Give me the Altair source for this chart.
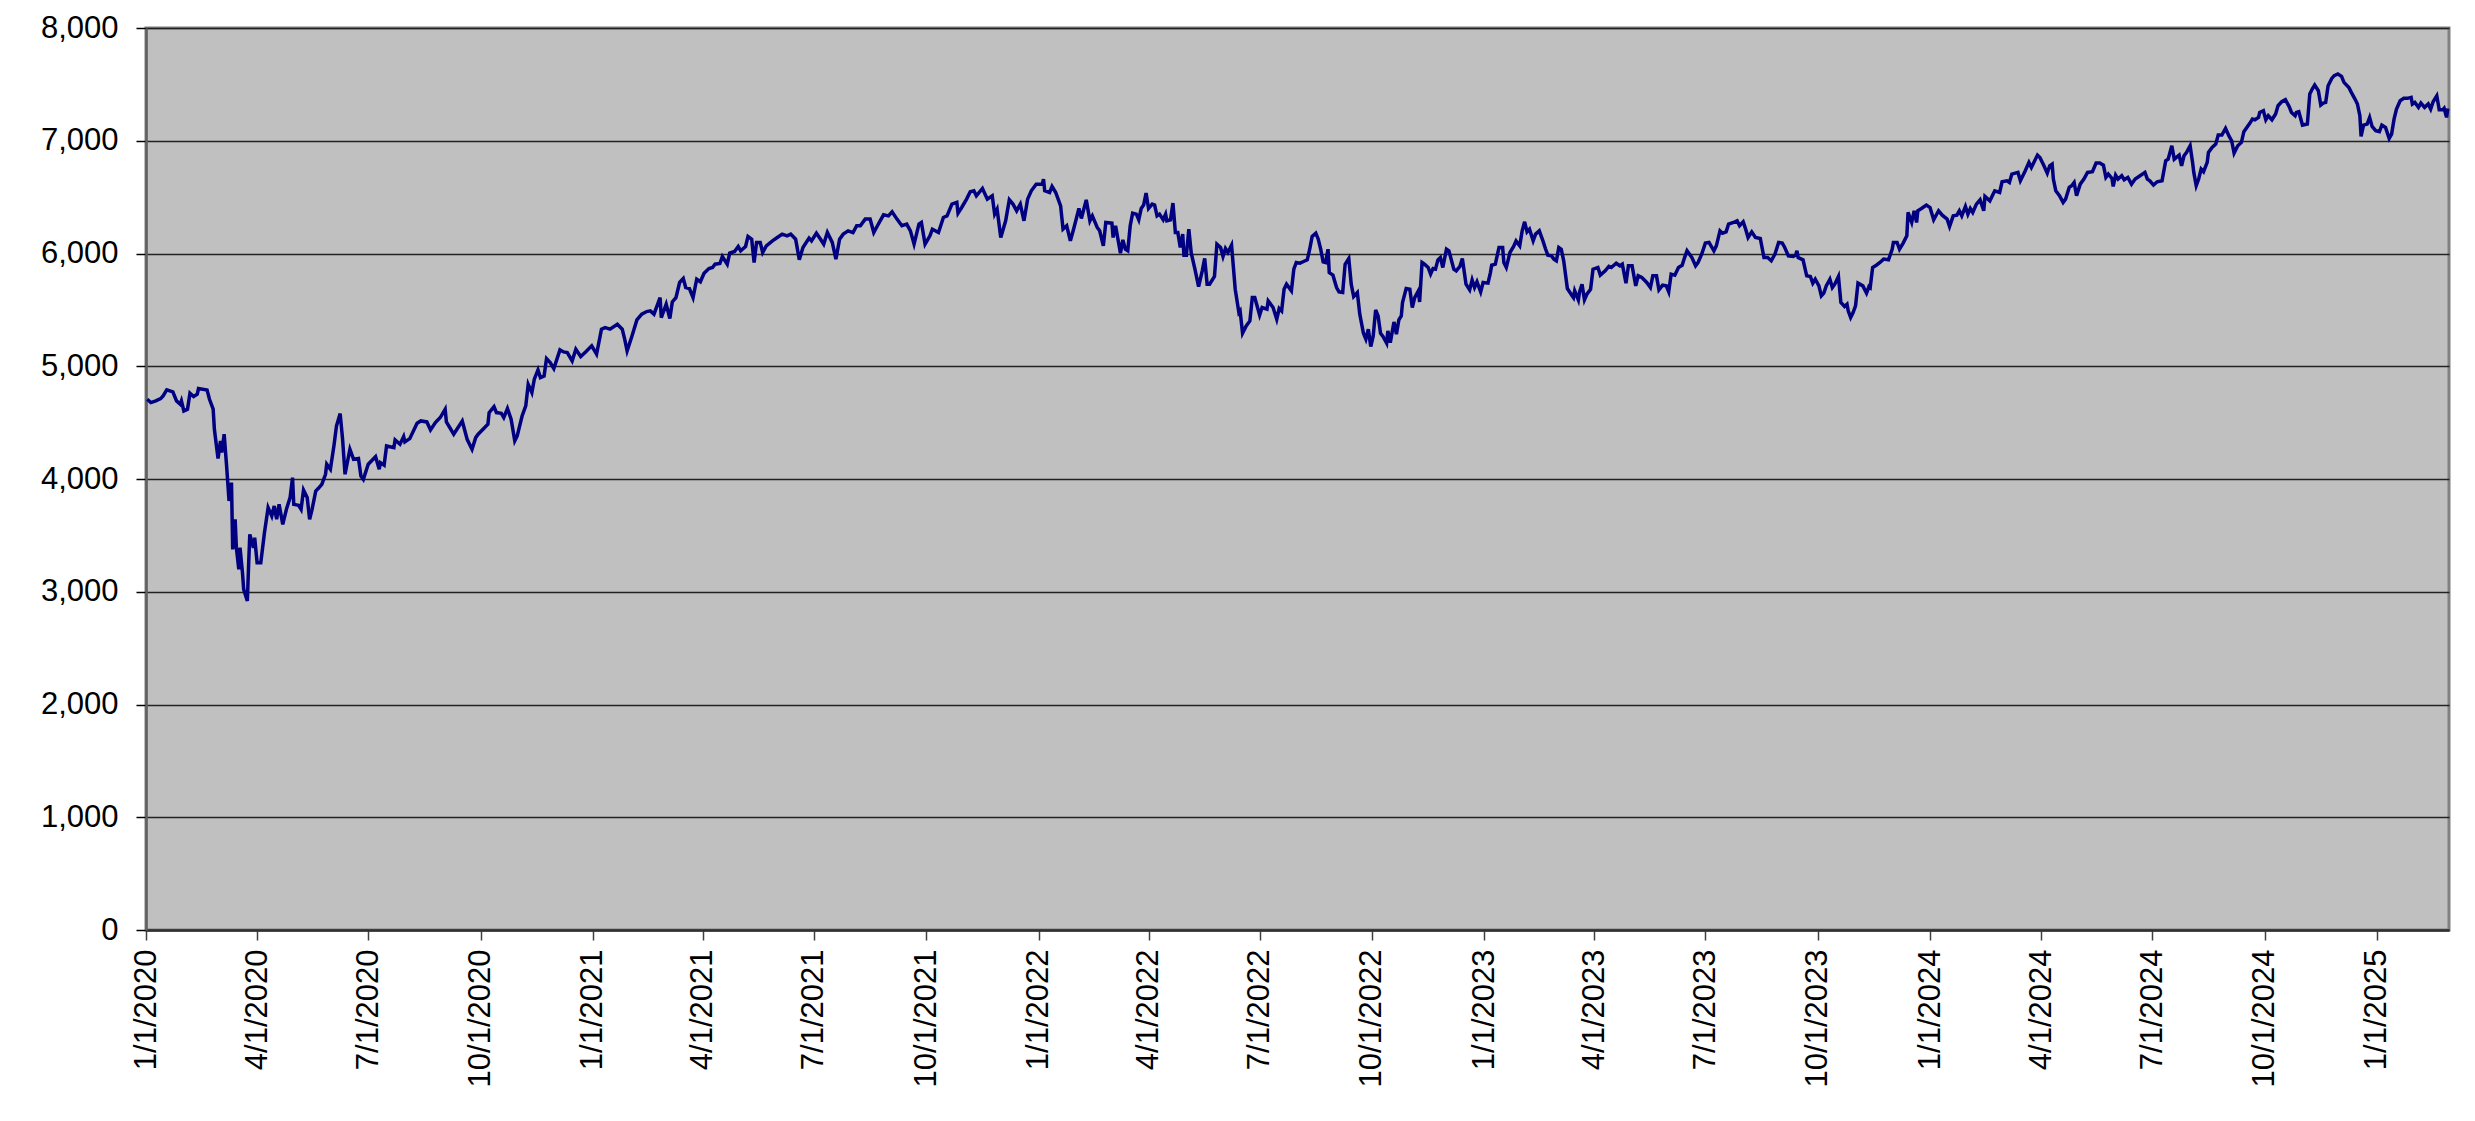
import altair as alt
import pandas as pd
from datetime import date, timedelta

# x positions, as days after 1/1/2020
days_2020 = [1,4,8,12,14,17,22,25,28,29,
             31,34,36,39,42,43,50,52,55,56,
             59,61,62,64,66,68,70,71,73,74,
             76,77,79,80,83,84,85,88,89,91,
             94,97,100,103,105,107,109,112,115,118,
             120,121,125,127,129,132,134,136,139,141,
             144,147,148,151,154,156,159,161,163,167,
             170,174,176,178,182,188,191,192,195,197,
             203,204,208,211,212,216,222,225,230,233,
             237,241,245,246,252,259,263,267,270,272,
             276,280,281,285,287,291,293,296,299,302,
             304,308,311,313,316,318,321,323,326,328,
             331,334,339,342,345,349,352,356,360,365]
vals_2020 = [4707,4678,4693,4713,4737,4790,4772,4693,4663,4693,
             4604,4619,4761,4731,4752,4802,4790,4707,4619,4441,
             4181,4338,4234,4397,4116,3805,3968,3376,3643,3391,
             3199,3391,3169,3021,2918,3228,3509,3391,3479,3258,
             3258,3524,3746,3672,3761,3643,3775,3598,3731,3835,
             4012,3775,3767,3731,3902,3835,3643,3731,3893,3915,
             3953,4042,4131,4086,4302,4471,4580,4352,4042,4264,
             4175,4181,4027,3997,4131,4198,4086,4145,4122,4293,
             4278,4346,4308,4376,4329,4358,4494,4515,4506,4435,
             4500,4545,4619,4506,4397,4515,4352,4264,4367,4397,
             4441,4485,4589,4642,4589,4583,4545,4625,4530,4338,
             4382,4559,4648,4840,4766,4885,4967,4899,4914,5068,
             5033,4979,5145,5127,5121,5047,5151,5086,5127,5181]

days_2021 = [369,373,376,380,386,390,392,394,398,402,
             406,410,413,416,421,422,426,429,431,434,
             437,440,442,445,448,451,454,457,461,464,
             466,470,472,476,478,482,485,487,491,493,
             496,498,500,503,505,508,513,517,521,525,
             528,532,533,535,538,543,545,549,552,555,
             558,562,565,568,571,575,579,582,585,589,
             593,596,599,604,608,611,615,619,623,626,
             629,633,635,638,642,644,649,653,656,660,
             664,665,668,672,675,678,680,685,689,693,
             695,697,700,704,707,710,713,716,719,722,
             725,729]
vals_2021 = [5107,5329,5343,5329,5373,5329,5240,5136,5269,5411,
             5462,5485,5491,5462,5609,5432,5550,5423,5570,5609,
             5743,5778,5698,5689,5609,5772,5749,5825,5867,5876,
             5905,5911,5973,5905,6003,6018,6062,6024,6062,6151,
             6127,5920,6098,6098,6009,6068,6112,6142,6172,6157,
             6172,6127,6068,5944,6053,6136,6112,6180,6133,6083,
             6186,6098,5950,6127,6172,6201,6186,6246,6246,6305,
             6305,6186,6246,6343,6334,6370,6305,6246,6260,6201,
             6083,6260,6275,6083,6157,6216,6186,6320,6334,6438,
             6453,6358,6408,6482,6547,6556,6512,6577,6482,6512,
             6349,6393,6142,6290,6476,6438,6379,6438,6290,6482,
             6556,6615]

days_2022 = [734,735,736,740,742,745,749,751,754,757,
             760,764,766,770,773,775,779,781,784,786,
             791,792,794,798,800,802,804,806,808,811,
             813,815,817,819,821,824,826,828,830,833,
             835,836,839,841,843,845,847,849,850,852,
             854,856,859,862,865,867,869,871,875,877,
             880,882,884,886,889,892,895,896,898,901,
             904,906,908,912,914,918,919,923,926,928,
             930,932,934,938,940,942,945,948,951,953,
             955,958,960,962,964,966,968,969,972,975,
             977,980,982,985,987,989,992,994,997,999,
             1001,1003,1005,1007,1009,1011,1013,1016,1017,1019,
             1022,1024,1026,1028,1029,1032,1035,1037,1039,1042,
             1043,1045,1047,1050,1052,1054,1056,1058,1060,1062,
             1065,1067,1071,1073,1076,1078,1081,1084,1086,1088,
             1090,1093,1095]
vals_2022 = [6615,6660,6556,6541,6595,6541,6423,6216,6246,6112,
             6231,6399,6311,6476,6290,6334,6231,6201,6068,6275,
             6269,6142,6246,6003,6121,6038,6024,6246,6358,6349,
             6299,6399,6429,6536,6399,6438,6429,6334,6349,6299,
             6349,6290,6299,6447,6186,6186,6053,6172,5985,5985,
             6216,6003,5861,5707,5846,5956,5728,5728,5796,6083,
             6053,5973,6044,6009,6074,5683,5476,5491,5293,5358,
             5402,5609,5609,5453,5521,5506,5580,5521,5417,5512,
             5491,5683,5728,5669,5861,5920,5914,5929,5944,6038,
             6151,6180,6127,6038,5926,5920,6038,5831,5808,5698,
             5660,5654,5905,5956,5728,5618,5654,5462,5293,5240,
             5328,5175,5269,5500,5447,5293,5264,5204,5314,5210,
             5393,5284,5411,5447,5565,5689,5683,5521,5609,5669,
             5570,5920,5905,5876,5817,5867,5861,5944,5964,5876,
             6038,6024,5861,5846,5885,5956,5728,5678,5766,5698,
             5749,5660,5743]

days_2023 = [1099,1101,1102,1105,1108,1111,1112,1114,1117,1120,
             1122,1125,1127,1129,1131,1133,1136,1138,1141,1144,
             1146,1148,1151,1153,1155,1157,1159,1161,1164,1168,
             1169,1170,1173,1174,1176,1178,1180,1183,1185,1189,
             1191,1195,1198,1200,1204,1207,1209,1212,1214,1217,
             1220,1222,1225,1229,1232,1234,1237,1239,1242,1245,
             1247,1249,1252,1255,1258,1260,1262,1266,1269,1271,
             1274,1277,1280,1284,1286,1289,1291,1294,1296,1300,
             1303,1305,1308,1310,1312,1315,1318,1322,1325,1328,
             1331,1334,1337,1340,1342,1345,1349,1351,1352,1353,
             1357,1360,1363,1365,1367,1370,1372,1374,1376,1379,
             1381,1383,1386,1388,1391,1393,1394,1396,1398,1400,
             1402,1406,1409,1411,1412,1414,1417,1420,1423,1427,
             1430,1431,1434,1436,1439,1442,1443,1446,1448,1450,
             1451,1454,1458]
vals_2023 = [5737,5831,5896,5905,6053,6053,5920,5876,6009,6062,
             6112,6068,6201,6281,6192,6216,6112,6172,6201,6112,
             6044,5985,5979,5950,5935,6053,6038,5935,5689,5624,
             5609,5669,5589,5660,5728,5589,5639,5683,5861,5876,
             5808,5846,5885,5876,5914,5891,5905,5737,5891,5891,
             5713,5802,5787,5743,5698,5802,5802,5678,5719,5713,
             5660,5817,5808,5876,5896,5964,6024,5964,5891,5920,
             5994,6092,6098,6024,6068,6201,6180,6192,6260,6275,
             6290,6246,6281,6216,6142,6192,6142,6133,5964,5964,
             5935,5994,6098,6092,6053,5979,5973,5985,6024,5964,
             5944,5802,5796,5737,5772,5713,5624,5648,5713,5772,
             5698,5728,5796,5565,5530,5550,5491,5432,5476,5535,
             5737,5713,5648,5707,5698,5876,5896,5920,5950,5944,
             6038,6098,6098,6038,6092,6157,6364,6275,6379,6275,
             6379,6399,6429]

days_2024 = [1461,1464,1468,1471,1475,1477,1480,1483,1485,1487,
             1490,1492,1494,1496,1499,1502,1505,1506,1510,1514,
             1518,1520,1524,1526,1528,1533,1535,1539,1542,1544,
             1549,1551,1554,1557,1559,1561,1562,1564,1567,1570,
             1572,1575,1577,1579,1581,1584,1587,1590,1594,1597,
             1600,1603,1605,1607,1610,1611,1613,1615,1618,1620,
             1623,1626,1629,1633,1637,1639,1641,1644,1647,1651,
             1654,1656,1659,1661,1665,1667,1669,1671,1674,1676,
             1677,1679,1681,1683,1685,1688,1689,1692,1695,1697,
             1700,1703,1706,1708,1710,1713,1716,1718,1721,1723,
             1725,1727,1730,1731,1734,1736,1738,1741,1744,1746,
             1749,1752,1755,1757,1760,1761,1763,1766,1770,1772,
             1774,1776,1779,1781,1783,1785,1787,1790,1792,1795,
             1798,1800,1804,1806,1809,1811,1813,1814,1816,1819,
             1821,1823,1826]
vals_2024 = [6408,6299,6379,6340,6305,6240,6334,6340,6379,6334,
             6417,6349,6399,6364,6438,6476,6379,6506,6467,6556,
             6541,6636,6645,6630,6704,6719,6645,6734,6808,6763,
             6873,6852,6784,6713,6778,6793,6660,6556,6512,6453,
             6482,6586,6601,6630,6512,6615,6660,6719,6725,6802,
             6802,6784,6675,6704,6666,6595,6695,6660,6689,6654,
             6675,6615,6660,6689,6719,6660,6645,6607,6636,6645,
             6822,6837,6956,6837,6873,6778,6867,6896,6956,6808,
             6719,6601,6660,6749,6725,6808,6896,6941,6970,7050,
             7050,7109,7038,7000,6891,6956,6985,7080,7127,7157,
             7192,7186,7207,7251,7266,7186,7222,7186,7237,7311,
             7346,7364,7305,7251,7222,7251,7257,7139,7148,7414,
             7459,7494,7444,7317,7334,7340,7488,7553,7577,7592,
             7571,7518,7473,7429,7370,7326,7222,7038,7139,7148,
             7207,7127,7089]

days_2025 = [1829,1831,1834,1837,1839,1841,1843,1846,1849,1852,
             1855,1856,1858,1861,1863,1866,1869,1871,1873,1876,
             1878,1881,1882,1884,1885]
vals_2025 = [7080,7139,7118,7021,7059,7192,7281,7355,7376,7376,
             7385,7326,7340,7296,7334,7296,7326,7281,7346,7399,
             7275,7275,7287,7207,7287]

tick_labels = ["1/1/2020", "4/1/2020", "7/1/2020", "10/1/2020",
               "1/1/2021", "4/1/2021", "7/1/2021", "10/1/2021",
               "1/1/2022", "4/1/2022", "7/1/2022", "10/1/2022",
               "1/1/2023", "4/1/2023", "7/1/2023", "10/1/2023",
               "1/1/2024", "4/1/2024", "7/1/2024", "10/1/2024",
               "1/1/2025"]
y_ticks = [0, 1000, 2000, 3000, 4000, 5000, 6000, 7000, 8000]
axis_end = "3/1/2025"

days = days_2020 + days_2021 + days_2022 + days_2023 + days_2024 + days_2025
vals = vals_2020 + vals_2021 + vals_2022 + vals_2023 + vals_2024 + vals_2025
assert len(days) == len(vals)

base = date(2020, 1, 1)
df = pd.DataFrame({
    "date": [(base + timedelta(days=d)).isoformat() for d in days],
    "value": vals,
})


def to_dt(s):
    m, d, y = (int(p) for p in s.split("/"))
    return alt.DateTime(year=y, month=m, date=d, utc=True)


tick_values = [to_dt(s) for s in tick_labels]
FONT = "Liberation Sans"
FSIZE = 31

chart = alt.Chart(df).mark_line(color="#000080", strokeWidth=3.5).encode(
    x=alt.X(
        "date:T",
        scale=alt.Scale(type="utc", domain=[to_dt(tick_labels[0]), to_dt(axis_end)], nice=False),
        axis=alt.Axis(
            values=tick_values,
            labelExpr="utcFormat(datum.value, '%-m/%-d/%Y')",
            labelAngle=270,
            labelOverlap=False,
            labelFlush=False,
            labelPadding=9,
            labelFont=FONT,
            labelFontSize=FSIZE,
            labelColor="#000000",
            tickSize=10,
            tickColor="#404040",
            tickWidth=1.5,
            domainColor="#303030",
            domainWidth=2.5,
            grid=False,
            title=None,
        ),
    ),
    y=alt.Y(
        "value:Q",
        scale=alt.Scale(domain=[0, 8000], nice=False),
        axis=alt.Axis(
            values=y_ticks,
            format=",.0f",
            labelPadding=18,
            labelFont=FONT,
            labelFontSize=FSIZE,
            labelColor="#000000",
            tickSize=10,
            tickColor="#000000",
            tickWidth=1.5,
            domainColor="#606060",
            domainWidth=2.5,
            grid=True,
            gridColor="#222222",
            gridWidth=1.3,
            title=None,
        ),
    ),
).properties(
    width=2303,
    height=902,
    autosize="none",
    padding={"left": 138, "top": 20, "right": 14, "bottom": 170},
).configure_view(
    fill="#C0C0C0",
    stroke="#808080",
    strokeWidth=3,
)

chart.save("out.html", embed_options={"renderer": "svg", "actions": False})
